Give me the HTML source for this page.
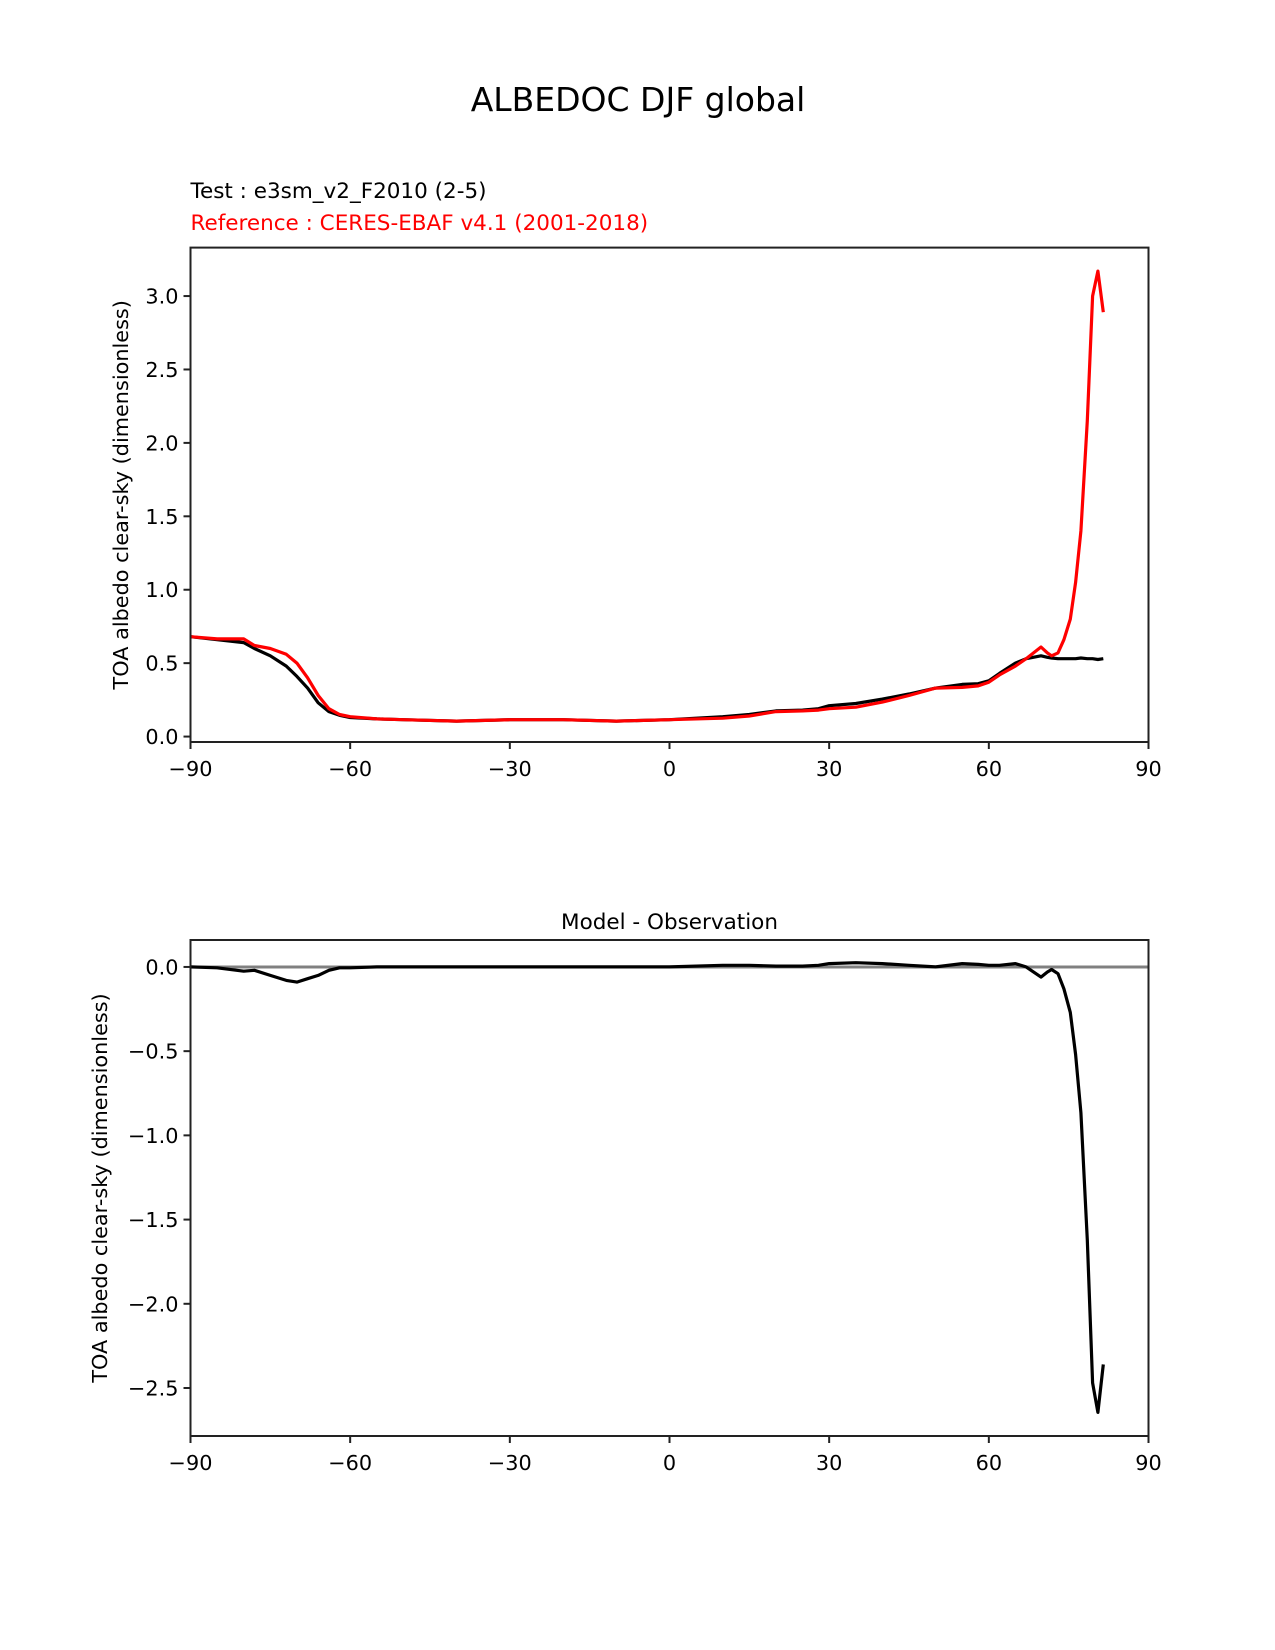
<!DOCTYPE html>
<html><head><meta charset="utf-8"><style>
body{margin:0;background:#fff}
svg{display:block;font-family:"DejaVu Sans","Liberation Sans",sans-serif}
</style></head><body>
<svg id="fig" width="1275" height="1650" viewBox="0 0 1275 1650" xmlns="http://www.w3.org/2000/svg">
<rect width="1275" height="1650" fill="#fff"/>
<text x="638" y="111" font-size="33" text-anchor="middle">ALBEDOC DJF global</text>
<text x="190.5" y="198" font-size="21.5">Test : e3sm_v2_F2010 (2-5)</text>
<text x="190.5" y="230" font-size="21.5" fill="#f00">Reference : CERES-EBAF v4.1 (2001-2018)</text>
<text x="669.5" y="929" font-size="21.5" text-anchor="middle">Model - Observation</text>
<g id="top"></g>
<g id="bot"></g>
</svg>
<script>
const lats = [-90,-85,-80,-78,-75,-72,-70,-68,-66,-64,-62,-60,-55,-50,-40,-30,-20,-10,0,10,15,20,25,28,30,35,40,45,50,55,58,60,62,65,67,69.8,71,71.8,73,74.1,75.3,76.3,77.3,78.5,79.5,80.5,81.5];
const testVals = [0.68,0.66,0.64,0.60,0.55,0.48,0.41,0.33,0.23,0.17,0.145,0.13,0.12,0.115,0.105,0.115,0.115,0.105,0.115,0.135,0.15,0.175,0.18,0.19,0.21,0.225,0.255,0.29,0.33,0.355,0.36,0.38,0.43,0.50,0.53,0.55,0.54,0.535,0.53,0.53,0.53,0.53,0.535,0.53,0.53,0.525,0.53];
const refVals = [0.68,0.665,0.665,0.62,0.60,0.56,0.50,0.40,0.28,0.19,0.15,0.135,0.12,0.115,0.105,0.115,0.115,0.105,0.115,0.125,0.14,0.17,0.175,0.18,0.19,0.20,0.235,0.28,0.33,0.335,0.345,0.37,0.42,0.48,0.53,0.61,0.57,0.55,0.57,0.66,0.80,1.05,1.40,2.15,3.0,3.17,2.89];
const xTicks = [-90,-60,-30,0,30,60,90];
const xTickLabels = ["\u221290","\u221260","\u221230","0","30","60","90"];
const topYTicks = [0,0.5,1.0,1.5,2.0,2.5,3.0];
const topYTickLabels = ["0.0","0.5","1.0","1.5","2.0","2.5","3.0"];
const botYTicks = [0,-0.5,-1.0,-1.5,-2.0,-2.5];
const botYTickLabels = ["0.0","\u22120.5","\u22121.0","\u22121.5","\u22122.0","\u22122.5"];

const NS="http://www.w3.org/2000/svg";
const L=190.5,R=1148.5;
function xs(v){return L+(v+90)/180*(R-L);}
function mk(parent,tag,attrs){const e=document.createElementNS(NS,tag);for(const k in attrs)e.setAttribute(k,attrs[k]);parent.appendChild(e);return e;}

function panel(g,top,bot,ymin,ymax,yt,ytl,series,ylabelX,zeroLine){
  const ys=v=>bot-(v-ymin)/(ymax-ymin)*(bot-top);
  if(zeroLine){
    const z=mk(g,'line',{x1:L,x2:R,y1:ys(0),y2:ys(0),stroke:'#808080','stroke-width':3});
    
    
  }
  series.forEach(s=>{
    const pts=lats.map((la,i)=>xs(la).toFixed(1)+','+ys(s.vals[i]).toFixed(1)).join(' ');
    const p=mk(g,'polyline',{points:pts,fill:'none',stroke:s.color,'stroke-width':3.2,'stroke-linejoin':'round'});
    
    
  });
  const fr=mk(g,'rect',{x:L,y:top,width:R-L,height:bot-top,fill:'none',stroke:'#222','stroke-width':2});
  
  
  xTicks.forEach((t,i)=>{
    const x=xs(t);
    const tk=mk(g,'line',{x1:x,x2:x,y1:bot,y2:bot+7,stroke:'#222','stroke-width':2});
    
    
    const tx=mk(g,'text',{x:x,y:bot+34,'font-size':20.8,'text-anchor':'middle'});
    tx.textContent=xTickLabels[i];
    
    
  });
  yt.forEach((t,i)=>{
    const y=ys(t);
    const tk=mk(g,'line',{x1:L-7,x2:L,y1:y,y2:y,stroke:'#222','stroke-width':2});
    
    
    const tx=mk(g,'text',{x:L-12,y:y+7.5,'font-size':20.8,'text-anchor':'end'});
    tx.textContent=ytl[i];
    
    
  });
  const cy=(top+bot)/2;
  const yl=mk(g,'text',{x:ylabelX,y:cy,'font-size':20.8,'text-anchor':'middle',transform:`rotate(-90 ${ylabelX} ${cy})`});
  yl.textContent='TOA albedo clear-sky (dimensionless)';
  
  
}
const diffVals=testVals.map((v,i)=>v-refVals[i]);
panel(document.getElementById('top'),247.6,742,-0.037,3.33,topYTicks,topYTickLabels,
  [{vals:testVals,color:'#000',name:'test-line'},{vals:refVals,color:'#f00',name:'reference-line'}],128,false);
panel(document.getElementById('bot'),940,1436,-2.785,0.16,botYTicks,botYTickLabels,
  [{vals:diffVals,color:'#000',name:'difference-line'}],107,true);
</script>
</body></html>
